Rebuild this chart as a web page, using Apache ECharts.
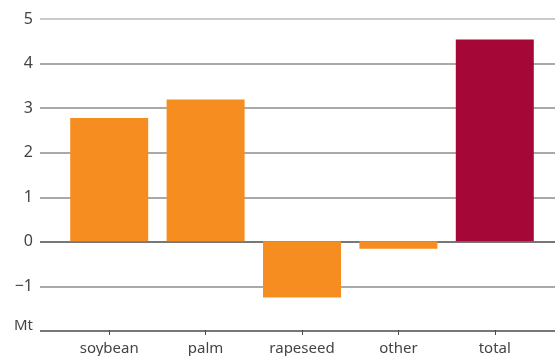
<!DOCTYPE html>
<html>
<head>
<meta charset="utf-8">
<script src="https://cdn.jsdelivr.net/npm/echarts@6/dist/echarts.min.js"></script>
<style>
  html, body { margin: 0; padding: 0; background: #fff; }
  #chart { width: 555px; height: 356px; }
</style>
</head>
<body>
<div id="chart"></div>
<script>
// Change in vegetable oil production, Mt
const categories = ['soybean', 'palm', 'rapeseed', 'other', 'total'];
const values = [2.77, 3.19, -1.27, -0.17, 4.54];
const barColors = ['#F58D21', '#F58D21', '#F58D21', '#F58D21', '#A50836'];
const yTicks = [-2, -1, 0, 1, 2, 3, 4, 5];
const yTickLabels = ['Mt', '\u22121', '0', '1', '2', '3', '4', '5'];

const FONT = '"Noto Sans", sans-serif';
const chart = echarts.init(document.getElementById('chart'), null, { renderer: 'canvas' });

// darker lines for the baseline at the bottom and the zero line
const gridColors = yTicks.map(v => (v === -2 || v === 0) ? '#4a4a4a' : (v === 5 ? '#b8b8b8' : '#8c8c8c'));

chart.setOption({
  animation: false,
  backgroundColor: '#fff',
  grid: [
    { left: 40, right: 0, top: 19, bottom: 25 },   // full-width grid lines + value labels
    { left: 61, right: 12, top: 19, bottom: 25 }   // bars and category labels
  ],
  xAxis: [
    { gridIndex: 0, type: 'value', show: false, min: 0, max: 1 },
    {
      gridIndex: 1,
      type: 'category',
      data: categories,
      boundaryGap: true,
      axisLine: { show: false, onZero: false },
      axisTick: { show: true, alignWithLabel: true, length: 5, lineStyle: { color: '#4a4a4a', width: 1 } },
      axisLabel: { color: '#444', fontSize: 15, fontFamily: FONT, margin: 11 }
    }
  ],
  yAxis: [
    {
      gridIndex: 0,
      type: 'value',
      min: yTicks[0],
      max: yTicks[yTicks.length - 1],
      interval: 1,
      axisLine: { show: false },
      axisTick: { show: false },
      axisLabel: {
        color: '#444', fontSize: 16, fontFamily: FONT, margin: 7,
        formatter: v => v === yTicks[0] ? '{unit|' + yTickLabels[0] + '}' : yTickLabels[yTicks.indexOf(v)],
        rich: {
          unit: { color: '#444', fontSize: 15, fontFamily: FONT, padding: [0, 0, 10, 0] }
        }
      },
      splitLine: { show: true, lineStyle: { color: gridColors, width: 1.5 } }
    },
    {
      gridIndex: 1,
      type: 'value',
      min: yTicks[0],
      max: yTicks[yTicks.length - 1],
      interval: 1,
      show: false,
      splitLine: { show: false }
    }
  ],
  series: [{
    type: 'bar',
    xAxisIndex: 1,
    yAxisIndex: 1,
    barWidth: 78,
    data: values.map((v, i) => ({ value: v, itemStyle: { color: barColors[i] } })),
    z: 3
  }]
});
</script>
</body>
</html>
